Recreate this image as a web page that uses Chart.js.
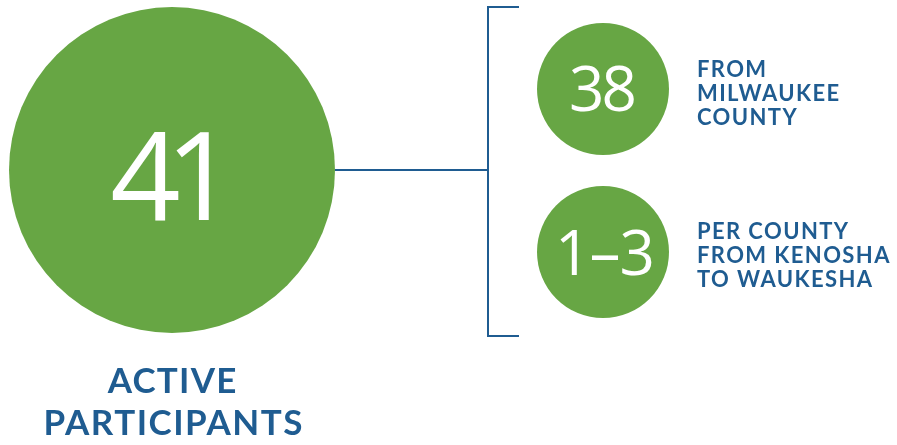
<!DOCTYPE html>
<html>
<head>
<meta charset="utf-8">
<script src="https://cdn.jsdelivr.net/npm/chart.js@4.4.1/dist/chart.umd.min.js"></script>
<style>
    html, body { margin: 0; padding: 0; background: #fff; }
    #wrap { width: 897px; height: 445px; position: relative; }
</style>
</head>
<body>
<div id="wrap"><canvas id="participantsChart"></canvas></div>
<script>
// chart values
const totalValue = '41';
const totalLabel = ['ACTIVE', 'PARTICIPANTS'];
const breakdownValues = ['38', '1\u20133'];
const breakdownLabels = [
    ['FROM', 'MILWAUKEE', 'COUNTY'],
    ['PER COUNTY', 'FROM KENOSHA', 'TO WAUKESHA']
];

// layout (in canvas units, the scales run 0..897 and 0..445)
const bigCircle = { x: 172, y: 170, r: 163 };
const smallCircles = [
    { x: 603, y: 89, r: 66 },
    { x: 603, y: 252, r: 66 }
];
const bracketX = 488;
const bracketTop = 7;
const bracketBottom = 336;
const bracketArm = 31;

const green = '#67a644';
const blue = '#1f5c91';

const connector = [
    { x: bigCircle.x + bigCircle.r, y: bigCircle.y },
    { x: bracketX, y: bigCircle.y }
];
const bracket = [
    { x: bracketX + bracketArm, y: bracketTop },
    { x: bracketX, y: bracketTop },
    { x: bracketX, y: bracketBottom },
    { x: bracketX + bracketArm, y: bracketBottom }
];

// draws text with letter spacing, centred on the glyphs (not the trailing gap)
function spacedText(ctx, text, x, y, spacing, align) {
    ctx.letterSpacing = spacing + 'px';
    let w = ctx.measureText(text).width - spacing;
    let left = align === 'center' ? x - w / 2 : x;
    ctx.textAlign = 'left';
    ctx.fillText(text, left, y);
    ctx.letterSpacing = '0px';
}

const textPlugin = {
    id: 'infoText',
    afterDatasetsDraw(chart) {
        const ctx = chart.ctx;
        const xs = chart.scales.x;
        const ys = chart.scales.y;
        ctx.save();
        ctx.textBaseline = 'alphabetic';

        // big number
        ctx.fillStyle = '#fff';
        ctx.font = '400 123px "Open Sans"';
        spacedText(ctx, totalValue, xs.getPixelForValue(bigCircle.x + 1), ys.getPixelForValue(220), -15, 'center');

        // small numbers
        ctx.font = '400 62px "Open Sans"';
        spacedText(ctx, breakdownValues[0], xs.getPixelForValue(smallCircles[0].x), ys.getPixelForValue(111), -3, 'center');
        spacedText(ctx, breakdownValues[1], xs.getPixelForValue(smallCircles[1].x + 2), ys.getPixelForValue(275), -1, 'center');

        // total label
        ctx.fillStyle = blue;
        ctx.font = 'bold 35px Lato';
        spacedText(ctx, totalLabel[0], xs.getPixelForValue(bigCircle.x), ys.getPixelForValue(393), 1.2, 'center');
        spacedText(ctx, totalLabel[1], xs.getPixelForValue(bigCircle.x + 1), ys.getPixelForValue(435), 1.5, 'center');

        // breakdown labels
        ctx.font = 'bold 22px Lato';
        const firstBaselines = [77, 239];
        breakdownLabels.forEach((lines, i) => {
            lines.forEach((line, j) => {
                spacedText(ctx, line, xs.getPixelForValue(697), ys.getPixelForValue(firstBaselines[i] + j * 24), 1.4, 'left');
            });
        });
        ctx.restore();
    }
};

const ctx = document.getElementById('participantsChart').getContext('2d');
new Chart(ctx, {
    type: 'bubble',
    data: {
        datasets: [
            {
                type: 'line',
                data: connector,
                borderColor: blue,
                borderWidth: 2,
                pointRadius: 0,
                fill: false,
                clip: false
            },
            {
                type: 'line',
                data: bracket,
                borderColor: blue,
                borderWidth: 2,
                pointRadius: 0,
                fill: false,
                clip: false
            },
            {
                label: 'Participants',
                data: [bigCircle].concat(smallCircles),
                backgroundColor: green,
                borderWidth: 0,
                hoverRadius: 0,
                clip: false
            }
        ]
    },
    options: {
        responsive: true,
        maintainAspectRatio: false,
        animation: false,
        events: [],
        layout: { padding: 0, autoPadding: false },
        plugins: {
            legend: { display: false },
            tooltip: { enabled: false }
        },
        scales: {
            x: { type: 'linear', min: 0, max: 897, display: false },
            y: { type: 'linear', min: 0, max: 445, reverse: true, display: false }
        }
    },
    plugins: [textPlugin]
});
</script>
</body>
</html>
